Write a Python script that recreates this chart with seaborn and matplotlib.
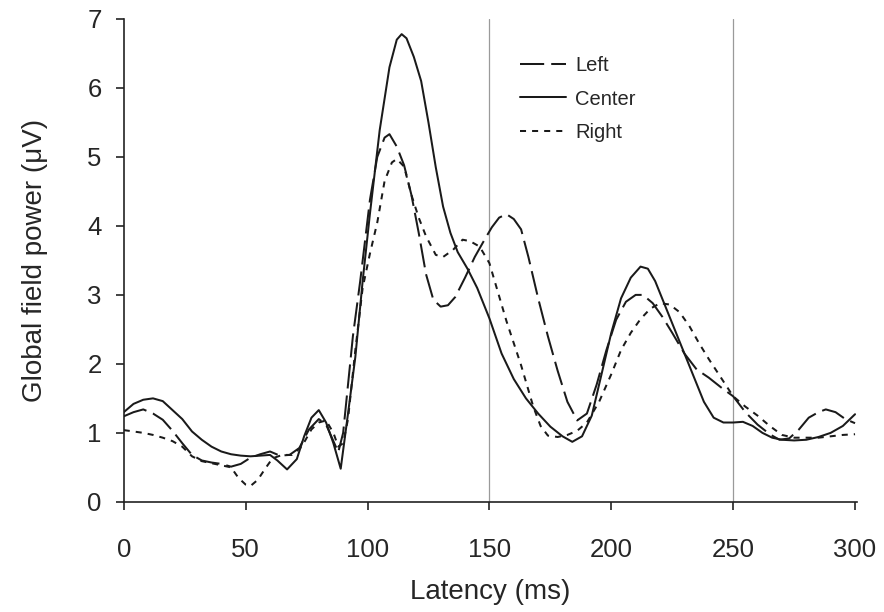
import pandas as pd
import matplotlib
matplotlib.use("Agg")
import matplotlib.pyplot as plt
import seaborn as sns

# Latency (ms) and global field power (uV)
left_x = [0, 4, 8, 12, 16, 20, 24, 28, 32, 36, 40, 44, 48, 52, 56, 60, 64, 68, 72, 76, 80, 83, 86, 88,
          90, 92, 94, 97, 101, 104, 107, 109, 112, 115, 118, 121, 124, 127, 130, 133, 136, 140, 144, 148,
          151, 154, 157, 160, 163, 166, 170, 174, 178, 182, 186, 190, 194, 198, 202, 206, 210, 213, 217,
          221, 225, 230, 235, 240, 245, 250, 255, 260, 265, 269, 273, 277, 281, 285, 288, 292, 296, 300]
left_y = [1.24, 1.30, 1.34, 1.28, 1.19, 1.03, 0.85, 0.68, 0.60, 0.57, 0.55, 0.51, 0.55, 0.64, 0.69, 0.73,
          0.67, 0.68, 0.78, 1.05, 1.20, 1.12, 0.88, 0.72, 1.00, 1.70, 2.40, 3.20, 4.38, 5.00, 5.28, 5.33,
          5.15, 4.88, 4.45, 3.90, 3.30, 2.93, 2.83, 2.85, 2.97, 3.25, 3.55, 3.80, 3.98, 4.12, 4.17, 4.10,
          3.95, 3.55, 2.95, 2.40, 1.90, 1.45, 1.18, 1.28, 1.70, 2.20, 2.64, 2.90, 3.00, 3.00, 2.88, 2.68,
          2.45, 2.15, 1.92, 1.80, 1.66, 1.53, 1.30, 1.12, 0.98, 0.90, 0.92, 1.05, 1.22, 1.30, 1.34, 1.30,
          1.20, 1.14]

center_x = [0, 4, 8, 12, 16, 20, 24, 28, 32, 36, 40, 44, 48, 52, 56, 60, 63, 67, 71, 74, 77, 80, 83, 86,
            89, 92, 95, 98, 101, 105, 109, 112, 114, 116, 119, 122, 125, 128, 131, 134, 137, 141, 145, 150,
            155, 160, 165, 170, 175, 180, 184, 188, 192, 196, 200, 204, 208, 212, 215, 218, 222, 226, 230,
            234, 238, 242, 246, 250, 254, 258, 262, 266, 270, 275, 280, 285, 290, 295, 300]
center_y = [1.30, 1.42, 1.48, 1.50, 1.46, 1.33, 1.20, 1.02, 0.90, 0.80, 0.73, 0.69, 0.67, 0.66, 0.67, 0.68,
            0.60, 0.47, 0.62, 0.95, 1.22, 1.33, 1.15, 0.85, 0.48, 1.28, 2.10, 3.20, 4.18, 5.39, 6.30, 6.70,
            6.78, 6.72, 6.45, 6.10, 5.50, 4.85, 4.28, 3.90, 3.62, 3.38, 3.10, 2.66, 2.15, 1.78, 1.50, 1.28,
            1.09, 0.95, 0.87, 0.95, 1.25, 1.85, 2.45, 2.95, 3.25, 3.41, 3.38, 3.20, 2.85, 2.50, 2.15, 1.80,
            1.45, 1.22, 1.15, 1.15, 1.16, 1.10, 1.00, 0.93, 0.90, 0.89, 0.90, 0.94, 1.00, 1.10, 1.27]

right_x = [0, 4, 8, 12, 16, 20, 24, 28, 32, 36, 40, 44, 47, 50, 52, 55, 58, 61, 65, 69, 73, 77, 80, 83, 86,
           88, 90, 92, 95, 98, 101, 104, 107, 110, 112, 115, 118, 121, 124, 128, 131, 135, 139, 142, 146,
           150, 153, 157, 160, 163, 168, 171, 174, 178, 182, 186, 190, 195, 200, 204, 208, 212, 216, 220,
           224, 228, 232, 236, 240, 245, 250, 255, 260, 265, 270, 275, 280, 285, 290, 295, 300]
right_y = [1.04, 1.02, 1.00, 0.97, 0.93, 0.88, 0.80, 0.66, 0.59, 0.56, 0.53, 0.50, 0.35, 0.25, 0.23, 0.32,
           0.48, 0.63, 0.68, 0.68, 0.80, 1.05, 1.15, 1.18, 1.00, 0.80, 0.85, 1.20, 2.20, 3.10, 3.60, 4.05,
           4.65, 4.92, 4.97, 4.86, 4.45, 4.12, 3.85, 3.58, 3.55, 3.65, 3.80, 3.78, 3.70, 3.46, 3.10, 2.62,
           2.30, 1.98, 1.38, 1.10, 0.96, 0.94, 0.97, 1.03, 1.15, 1.45, 1.85, 2.20, 2.45, 2.65, 2.80, 2.88,
           2.86, 2.75, 2.55, 2.30, 2.07, 1.80, 1.53, 1.38, 1.25, 1.10, 0.97, 0.93, 0.93, 0.93, 0.95, 0.97,
           0.98]

conditions = ["Left", "Center", "Right"]

df = pd.concat([
    pd.DataFrame({"latency": left_x, "gfp": left_y, "condition": "Left"}),
    pd.DataFrame({"latency": center_x, "gfp": center_y, "condition": "Center"}),
    pd.DataFrame({"latency": right_x, "gfp": right_y, "condition": "Right"}),
])

sns.set_style("ticks")
plt.rcParams["font.family"] = ["Liberation Sans", "DejaVu Sans"]

fig = plt.figure(figsize=(8.84, 6.12), dpi=100)
ax = fig.add_axes([0.140, 0.180, 0.830, 0.789])

# thin grey reference lines
for xv in [150, 250]:
    ax.axvline(xv, color="#9a9a9a", lw=0.9, zorder=1)

sns.lineplot(
    data=df, x="latency", y="gfp", hue="condition", style="condition",
    hue_order=conditions, style_order=conditions,
    palette={"Left": "#1a1a1a", "Center": "#1a1a1a", "Right": "#1a1a1a"},
    dashes={"Left": (12, 3.5), "Center": "", "Right": (3, 3)},
    linewidth=1.45, estimator=None, sort=True, ax=ax, zorder=3,
)

ax.set_xlim(0, 301)
ax.set_ylim(0, 7)
ax.set_xticks(range(0, 301, 50))
ax.set_yticks(range(0, 8))
ax.set_xlabel("Latency (ms)", fontsize=20, labelpad=12)
ax.set_ylabel("Global field power (\u03bcV)", fontsize=20, labelpad=28)
ax.tick_params(axis="both", labelsize=18.5, direction="out", length=6, width=1.2, color="#222222")
ax.tick_params(axis="x", pad=20)
ax.tick_params(axis="y", pad=10)
sns.despine(ax=ax)
for side in ["left", "bottom"]:
    ax.spines[side].set_linewidth(1.2)
    ax.spines[side].set_color("#222222")

ax.legend(title=None, frameon=False, fontsize=14.5, loc="upper left",
          bbox_to_anchor=(0.515, 0.96), handlelength=2.3, handletextpad=0.45,
          labelspacing=0.7)

fig.savefig("out.png", dpi=100)
plt.close(fig)
